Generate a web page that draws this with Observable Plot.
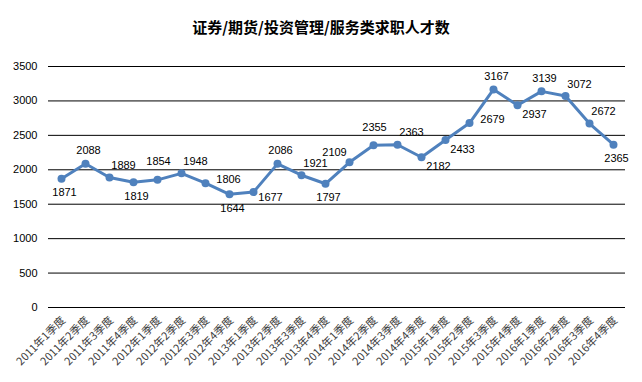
<!DOCTYPE html>
<html>
<head>
<meta charset="utf-8">
<script src="https://cdn.jsdelivr.net/npm/d3@7"></script>
<script src="https://cdn.jsdelivr.net/npm/@observablehq/plot@0.6"></script>
<style>
  html, body { margin: 0; padding: 0; background: #fff; }
  #wrap { width: 642px; height: 382px; overflow: hidden; background: #fff; }
  #title { height: 50px; line-height: 20px; padding-top: 17px; box-sizing: border-box; text-align: center;
           font-family: "Noto Sans CJK SC", sans-serif; font-weight: bold; font-size: 15px; color: #000; }
</style>
</head>
<body>
<div id="wrap">
  <div id="title">证券/期货/投资管理/服务类求职人才数</div>
  <div id="chart"></div>
</div>
<script>
const categories = [
  "2011年1季度","2011年2季度","2011年3季度","2011年4季度",
  "2012年1季度","2012年2季度","2012年3季度","2012年4季度",
  "2013年1季度","2013年2季度","2013年3季度","2013年4季度",
  "2014年1季度","2014年2季度","2014年3季度","2014年4季度",
  "2015年1季度","2015年2季度","2015年3季度","2015年4季度",
  "2016年1季度","2016年2季度","2016年3季度","2016年4季度"
];
const values = [
  1871, 2088, 1889, 1819,
  1854, 1948, 1806, 1644,
  1677, 2086, 1921, 1797,
  2109, 2355, 2363, 2182,
  2433, 2679, 3167, 2937,
  3139, 3072, 2672, 2365
];
const yTicks = [0, 500, 1000, 1500, 2000, 2500, 3000, 3500];
// data-label placement keyword for each point (style, not data)
const labelPlace = [
  "b","t","tr","b",
  "t2","tr","r","b",
  "r2","t","tr","b",
  "tl","t2","tr","br",
  "br","r","t","br",
  "t","tr","tr","b"
];
const placeStyle = {
  t:  {dx: 3,  dy: -13},
  t2: {dx: 1,  dy: -18},
  b:  {dx: 3,  dy: 14},
  tr: {dx: 14, dy: -12},
  tl: {dx: -15, dy: -10},
  br: {dx: 17, dy: 9},
  r:  {dx: 23, dy: -4},
  r2: {dx: 17, dy: 5}
};

const data = categories.map((c, i) => ({cat: c, value: values[i], place: labelPlace[i]}));

const textMarks = Object.entries(placeStyle).map(([k, s]) =>
  Plot.text(data.filter(d => d.place === k), {
    x: "cat", y: "value", text: d => String(d.value),
    dx: s.dx, dy: s.dy, fontSize: 11, fill: "#000",
    fontFamily: "Liberation Sans, Arial, sans-serif"
  })
);

const chart = Plot.plot({
  width: 642,
  height: 332,
  marginLeft: 48,
  marginRight: 17,
  marginTop: 16,
  marginBottom: 75,
  style: {background: "#fff", overflow: "visible"},
  x: {type: "point", domain: categories, padding: 0.5, label: null},
  y: {domain: [0, 3500], label: null},
  marks: [
    Plot.ruleY(yTicks, {stroke: "#000", strokeWidth: 1}),
    Plot.axisY({ticks: yTicks, tickSize: 0, tickPadding: 11, tickFormat: d => String(d),
                fontSize: 11, fill: "#000", fontFamily: "Liberation Sans, Arial, sans-serif", label: null}),
    Plot.axisX({tickSize: 0, tickRotate: -45, tickPadding: 11, fontSize: 11, fill: "#404040",
                fontFamily: "Noto Sans CJK SC, sans-serif", label: null, dx: 2}),
    Plot.line(data, {x: "cat", y: "value", stroke: "#4F81BD", strokeWidth: 3}),
    Plot.dot(data, {x: "cat", y: "value", r: 4, fill: "#4F81BD", stroke: "none"}),
    ...textMarks
  ]
});
document.getElementById("chart").appendChild(chart);
</script>
</body>
</html>
